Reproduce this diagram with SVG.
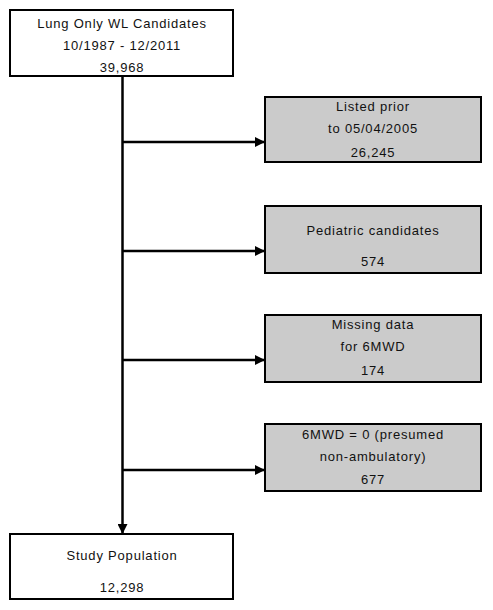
<svg xmlns="http://www.w3.org/2000/svg" width="493" height="610" viewBox="0 0 493 610">
<style>
.box{fill:#fff;stroke:#000;stroke-width:2}
.gray{fill:#cbcbcb;stroke:#000;stroke-width:2}
text{font-family:"Liberation Sans",Arial,sans-serif;font-size:13px;fill:#111;text-anchor:middle;letter-spacing:0.8px}
.conn{stroke:#000;stroke-width:2.5;fill:none}
</style>
<defs>
<marker id="arr" markerWidth="10" markerHeight="10" refX="9" refY="5" orient="auto" markerUnits="userSpaceOnUse">
<path d="M0,0 L10,5 L0,10 Z" fill="#000"/>
</marker>
</defs>
<g id="connectors">
<line class="conn" x1="122.5" y1="76" x2="122.5" y2="533" marker-end="url(#arr)"/>
<line class="conn" x1="122.5" y1="142" x2="264" y2="142" marker-end="url(#arr)"/>
<line class="conn" x1="122.5" y1="251" x2="264" y2="251" marker-end="url(#arr)"/>
<line class="conn" x1="122.5" y1="360" x2="264" y2="360" marker-end="url(#arr)"/>
<line class="conn" x1="122.5" y1="470" x2="264" y2="470" marker-end="url(#arr)"/>
</g>
<g id="start">
<rect class="box" x="10" y="10" width="223" height="66"/>
<text x="122" y="28">Lung Only WL Candidates</text>
<text x="122" y="50">10/1987 - 12/2011</text>
<text x="122" y="72">39,968</text>
</g>
<g id="excl1">
<rect class="gray" x="265" y="97" width="216" height="65"/>
<text x="373" y="111">Listed prior</text>
<text x="373" y="133">to 05/04/2005</text>
<text x="373" y="157">26,245</text>
</g>
<g id="excl2">
<rect class="gray" x="265" y="206" width="216" height="67"/>
<text x="373" y="235">Pediatric candidates</text>
<text x="373" y="266">574</text>
</g>
<g id="excl3">
<rect class="gray" x="265" y="315" width="216" height="67"/>
<text x="373" y="329">Missing data</text>
<text x="373" y="351">for 6MWD</text>
<text x="373" y="375">174</text>
</g>
<g id="excl4">
<rect class="gray" x="265" y="424" width="216" height="67"/>
<text x="373" y="439">6MWD = 0 (presumed</text>
<text x="373" y="461">non-ambulatory)</text>
<text x="373" y="484">677</text>
</g>
<g id="study">
<rect class="box" x="10" y="534" width="223" height="65"/>
<text x="122" y="560">Study Population</text>
<text x="122" y="592">12,298</text>
</g>
</svg>
